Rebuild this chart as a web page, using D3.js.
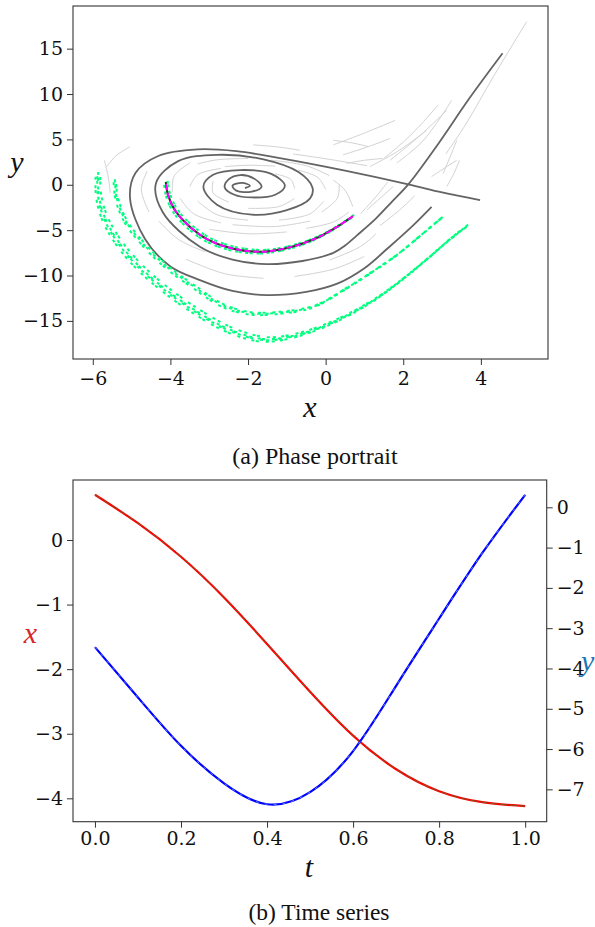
<!DOCTYPE html>
<html>
<head>
<meta charset="utf-8">
<script src="https://cdn.jsdelivr.net/npm/d3@7"></script>
<style>
  body { margin: 0; background: #fff; }
  svg text { font-family: "DejaVu Serif", serif; fill: #111; }
  .lbl { font-family: "Liberation Serif", serif; font-style: italic; }
  .cap { font-family: "Liberation Serif", serif; }
</style>
</head>
<body>
<div id="chart"></div>
<script>
// --- time series of the shown trajectory (panel b) ---
const tVals = [0, 0.1, 0.2, 0.3, 0.4, 0.5, 0.6, 0.7, 0.8, 0.9, 1.0];
const xVals = [0.70, 0.26, -0.26, -0.89, -1.61, -2.35, -3.03, -3.55, -3.89, -4.06, -4.12];
const yVals = [-3.47, -4.72, -5.92, -6.85, -7.37, -7.07, -6.05, -4.43, -2.76, -1.14, 0.31];

// --- phase portrait (panel a), [x, y] pairs ---
const spiralCurve = [[-2.08, -0.36], [-1.95, -0.1], [-2.15, 0.2], [-2.4, -0.1], [-2.3, -0.65], [-1.9, -0.75],
  [-1.65, -0.2], [-1.85, 0.7], [-2.2, 1.07], [-2.5, 0.6], [-2.6, -0.3], [-2.35, -1.1], [-1.9, -1.4],
  [-1.3, -1.1], [-1.05, -0.1], [-1.4, 1.2], [-2.2, 1.62], [-2.9, 1.1], [-3.15, -0.2], [-2.8, -2.2],
  [-1.9, -3.3], [-1.0, -2.8], [-0.4, -1.5], [-0.34, -0.3], [-0.7, 1.4], [-1.6, 2.8], [-2.8, 3.3],
  [-3.8, 2.6], [-4.37, 0.2], [-4.2, -3.0], [-3.24, -6.84], [-2.4, -8.25], [-1.52, -8.74], [-0.6, -8.4],
  [0.2, -7.5], [0.5, -6.7], [0.8, -5.6], [1.3, -3.7], [1.7, -1.9], [2.13, 0.04], [2.9, 4.5], [3.7, 9.5],
  [4.56, 14.49]];
const outerCurve = [[3.98, -1.69], [3.0, -0.85], [2.13, 0.04], [0.5, 1.55], [-1.18, 2.93], [-2.3, 3.7],
  [-3.3, 3.9], [-4.3, 3.2], [-4.9, 1.3], [-5.04, -1.5], [-4.65, -6.0], [-4.0, -9.0], [-3.24, -10.5],
  [-2.4, -11.7], [-1.52, -12.16], [-0.5, -11.8], [0.3, -10.9], [1.0, -9.2], [1.6, -7.0], [2.2, -4.7],
  [2.73, -2.43]];
const innerBand = [[-5.43, 0.5], [-5.38, -1.5], [-5.15, -4.0], [-4.7, -6.5], [-4.1, -9.0], [-3.4, -11.2],
  [-2.64, -13.3], [-1.95, -14.15], [-1.2, -14.1], [-0.3, -13.4], [0.54, -11.4], [1.2, -9.6], [1.83, -7.75],
  [2.5, -5.4], [3.03, -3.5]];
const outerBand = [[-5.86, 1.3], [-5.85, -1.0], [-5.7, -3.5], [-5.35, -6.2], [-4.8, -9.0], [-4.1, -11.6],
  [-3.3, -14.0], [-2.5, -15.9], [-1.6, -17.0], [-0.8, -16.6], [0.2, -15.1], [1.2, -12.8], [1.83, -10.9],
  [2.69, -7.9], [3.2, -6.0], [3.68, -4.4]];
const streamArcs = [
  // upper right, along the manifold
  [[5.18, 17.97], [4.32, 11.9], [3.63, 6.8], [3.1, 3.4]],
  [[3.38, 4.9], [3.2, 3.0], [3.03, 1.25]],
  [[3.45, 2.7], [3.3, 1.2], [3.12, -0.2]],
  [[2.73, 0.9], [3.05, 1.8], [3.38, 2.7]],
  [[1.66, 2.7], [2.4, 5.3], [3.12, 8.2]],
  [[1.83, 2.4], [2.5, 4.8], [3.25, 9.3]],
  [[1.5, 2.9], [2.2, 5.5], [2.9, 8.8]],
  [[1.14, 2.0], [1.9, 3.8], [2.6, 6.0]],
  [[0.2, 4.4], [1.0, 5.7], [1.79, 7.1]],
  [[0.45, 3.3], [1.1, 4.2], [1.66, 5.1]],
  [[0.54, 2.36], [1.0, 2.7], [1.48, 2.9]],
  [[-1.87, 4.4], [-1.2, 4.15], [-0.66, 3.8]],
  [[0.2, 4.9], [0.7, 4.6], [1.1, 4.2]],
  [[-0.84, 3.4], [0.1, 2.8], [1.07, 2.1]],
  // left, outside the loops
  [[-5.64, 2.0], [-5.4, 3.2], [-5.04, 4.2]],
  [[-5.7, 2.7], [-5.6, 0.8], [-5.55, -0.9]],
  // around the spiral
  [[-3.5, 2.4], [-3.9, 1.0], [-3.95, -0.8]],
  [[-3.75, -1.5], [-3.4, -3.2], [-2.7, -4.2]],
  [[-2.4, -4.4], [-1.3, -4.6], [-0.4, -4.0]],
  [[-0.1, -3.0], [0.3, -1.5], [0.35, 0.0]],
  [[0.1, 1.0], [-0.5, 2.1], [-1.4, 2.7]],
  [[-2.0, 2.9], [-2.8, 2.75], [-3.3, 2.3]],
  [[-2.7, 1.8], [-3.3, 1.1], [-3.5, -0.2]],
  [[-3.3, -1.8], [-2.8, -3.3], [-2.0, -3.9]],
  [[-1.2, -3.9], [-0.4, -3.2], [-0.05, -1.8]],
  [[0.0, -0.5], [-0.2, 0.8], [-0.7, 1.6]],
  [[-1.3, 2.05], [-2.0, 2.15], [-2.6, 2.0]],
  [[-2.9, 0.4], [-2.9, -0.9], [-2.5, -1.9]],
  [[-2.0, -2.6], [-1.2, -2.4], [-0.8, -1.5]],
  [[-0.8, -0.4], [-0.9, 0.6], [-1.3, 1.2]],
  // between the outer loops
  [[-4.6, 1.5], [-4.75, -0.5], [-4.55, -3.0]],
  [[-4.3, -4.0], [-3.8, -6.0], [-3.1, -7.4]],
  [[-3.6, -8.2], [-2.6, -9.8], [-1.6, -10.3]],
  [[-0.8, -10.1], [0.2, -9.3], [1.0, -7.9]],
  [[0.1, -8.3], [0.9, -6.8], [1.3, -5.4]],
  [[-3.0, -4.9], [-2.0, -5.4], [-1.0, -5.2]],
  [[-0.5, -4.8], [0.2, -4.1], [0.6, -3.0]],
  [[0.9, -3.2], [1.3, -1.3], [1.6, 0.3]],
  [[1.06, -2.8], [1.45, -1.3], [1.74, -0.2]],
  [[1.4, -4.5], [1.9, -2.8], [2.3, -1.2]],
  [[0.2, 0.5], [0.5, -0.6], [0.7, -2.4]]
];

// --- ticks ---
const phaseXTicks = [-6, -4, -2, 0, 2, 4];
const phaseYTicks = [-15, -10, -5, 0, 5, 10, 15];
const tTicks = [0, 0.2, 0.4, 0.6, 0.8, 1.0];
const xTicks = [-4, -3, -2, -1, 0];
const yTicks = [-7, -6, -5, -4, -3, -2, -1, 0];

const W = 595, H = 927;
const svg = d3.select("#chart").append("svg").attr("width", W).attr("height", H);

// ================= panel (a) =================
const pa = {left: 73, right: 548, top: 6, bottom: 359};
const xP = d3.scaleLinear().domain([-6.51, 5.73]).range([pa.left, pa.right]);
const yP = d3.scaleLinear().domain([-19.2, 19.7]).range([pa.bottom, pa.top]);

svg.append("clipPath").attr("id", "clipA").append("rect")
  .attr("x", pa.left).attr("y", pa.top)
  .attr("width", pa.right - pa.left).attr("height", pa.bottom - pa.top);

const gA = svg.append("g").attr("clip-path", "url(#clipA)");
const phaseLine = d3.line().x(d => xP(d[0])).y(d => yP(d[1])).curve(d3.curveCatmullRom.alpha(0.5));

// light streamlines
gA.append("g").selectAll("path").data(streamArcs).join("path")
  .attr("d", phaseLine)
  .attr("fill", "none").attr("stroke", "#d2d2d2").attr("stroke-width", 1);

// dark trajectories
gA.selectAll(".traj").data([spiralCurve, outerCurve]).join("path")
  .attr("class", "traj")
  .attr("d", phaseLine)
  .attr("fill", "none").attr("stroke", "#646464").attr("stroke-width", 1.8);

// green sampled points (drawn as irregular dotted strokes along the bands)
const dotStyle = (sel, w, dash) => sel.attr("fill", "none").attr("stroke", "#00ff7f")
  .attr("stroke-width", w).attr("stroke-linecap", "square")
  .attr("stroke-dasharray", dash);
const denseDash = "1 3.5 1 5.5 1 2.5 1 6";
const sparseDash = "1 5 1 7.5 1 3.5 1 9";
[[0, 0], [-2.6, 2.6], [2.2, -2.0], [-0.8, 1.0]].forEach((s, i) => {
  dotStyle(gA.append("path").datum(outerBand).attr("d", phaseLine)
    .attr("transform", `translate(${s[0]},${s[1]})`).attr("stroke-dashoffset", i * 3.7), 2, sparseDash);
});
[[0, 0], [-1.3, 1.3], [1, -1]].forEach((s, i) => {
  dotStyle(gA.append("path").datum(innerBand).attr("d", phaseLine)
    .attr("transform", `translate(${s[0]},${s[1]})`).attr("stroke-dashoffset", i * 4.3), 2, sparseDash);
});

// the trajectory of panel (b) in phase space
const traj = tVals.map((t, i) => [xVals[i], yVals[i]]);
[[-1.8, 1.8], [1.8, -1.8], [0, 0]].forEach((s, i) => {
  dotStyle(gA.append("path").datum(traj).attr("d", phaseLine)
    .attr("transform", `translate(${s[0]},${s[1]})`).attr("stroke-dashoffset", i * 2.9), 2, denseDash);
});
gA.append("path").datum(traj).attr("d", phaseLine)
  .attr("fill", "none").attr("stroke", "#1f3f1f").attr("stroke-width", 2);
gA.append("path").datum(traj).attr("d", phaseLine)
  .attr("fill", "none").attr("stroke", "#ff00ff").attr("stroke-width", 2)
  .attr("stroke-dasharray", "6 2.5");

// axes (a)
const styleAxis = g => {
  g.selectAll("line").attr("stroke", "#333");
  g.selectAll("text").style("font-size", "19px").style("font-family", "'DejaVu Serif', serif").attr("fill", "#111");
  g.select(".domain").remove();
};
svg.append("g").attr("transform", `translate(0,${pa.bottom})`)
  .call(d3.axisBottom(xP).tickValues(phaseXTicks).tickSize(6).tickPadding(6.5).tickFormat(d3.format("d")))
  .call(styleAxis);
svg.append("g").attr("transform", `translate(${pa.left},0)`)
  .call(d3.axisLeft(yP).tickValues(phaseYTicks).tickSize(6).tickPadding(4).tickFormat(d3.format("d")))
  .call(styleAxis);
svg.append("rect").attr("x", pa.left).attr("y", pa.top)
  .attr("width", pa.right - pa.left).attr("height", pa.bottom - pa.top)
  .attr("fill", "none").attr("stroke", "#333").attr("stroke-width", 1.1);

svg.append("text").attr("class", "lbl").attr("x", 17).attr("y", 172)
  .attr("text-anchor", "middle").style("font-size", "30px").text("y");
svg.append("text").attr("class", "lbl").attr("x", 310).attr("y", 417)
  .attr("text-anchor", "middle").style("font-size", "30px").text("x");
svg.append("text").attr("class", "cap").attr("x", 315).attr("y", 464)
  .attr("text-anchor", "middle").style("font-size", "24px").text("(a) Phase portrait");

// ================= panel (b) =================
const pb = {left: 73, right: 546.7, top: 480, bottom: 821.7};
const tS = d3.scaleLinear().domain([-0.051, 1.05]).range([pb.left, pb.right]);
const xS = d3.scaleLinear().domain([-4.362, 0.929]).range([pb.bottom, pb.top]);
const yS = d3.scaleLinear().domain([-7.803, 0.678]).range([pb.bottom, pb.top]);

const xLine = d3.line().x((d, i) => tS(tVals[i])).y(d => xS(d)).curve(d3.curveNatural);
const yLine = d3.line().x((d, i) => tS(tVals[i])).y(d => yS(d)).curve(d3.curveNatural);

svg.append("path").datum(xVals).attr("d", xLine)
  .attr("fill", "none").attr("stroke", "#ff0000").attr("stroke-width", 2.2);
svg.append("path").datum(xVals).attr("d", xLine)
  .attr("fill", "none").attr("stroke", "#7a5a22").attr("stroke-width", 0.9)
  .attr("stroke-dasharray", "7 3");
svg.append("path").datum(yVals).attr("d", yLine)
  .attr("fill", "none").attr("stroke", "#0000ff").attr("stroke-width", 2.2);
svg.append("path").datum(yVals).attr("d", yLine)
  .attr("fill", "none").attr("stroke", "#5d8cff").attr("stroke-width", 0.9)
  .attr("stroke-dasharray", "3 6");

svg.append("g").attr("transform", `translate(0,${pb.bottom})`)
  .call(d3.axisBottom(tS).tickValues(tTicks).tickSize(6).tickPadding(3.8).tickFormat(d3.format(".1f")))
  .call(styleAxis);
svg.append("g").attr("transform", `translate(${pb.left},0)`)
  .call(d3.axisLeft(xS).tickValues(xTicks).tickSize(6).tickPadding(4).tickFormat(d3.format("d")))
  .call(styleAxis);
svg.append("g").attr("transform", `translate(${pb.right},0)`)
  .call(d3.axisRight(yS).tickValues(yTicks).tickSize(6).tickPadding(4).tickFormat(d3.format("d")))
  .call(styleAxis);
svg.append("rect").attr("x", pb.left).attr("y", pb.top)
  .attr("width", pb.right - pb.left).attr("height", pb.bottom - pb.top)
  .attr("fill", "none").attr("stroke", "#333").attr("stroke-width", 1.1);

svg.append("text").attr("class", "lbl").attr("x", 30.5).attr("y", 643)
  .attr("text-anchor", "middle").style("font-size", "30px").style("fill", "#d62728").text("x");
svg.append("text").attr("class", "lbl").attr("x", 581).attr("y", 671)
  .style("font-size", "30px").style("fill", "#1f77b4").text("y");
svg.append("text").attr("class", "lbl").attr("x", 309).attr("y", 877)
  .attr("text-anchor", "middle").style("font-size", "30px").text("t");
svg.append("text").attr("class", "cap").attr("x", 319).attr("y", 920)
  .attr("text-anchor", "middle").style("font-size", "23.5px").text("(b) Time series");
</script>
</body>
</html>
